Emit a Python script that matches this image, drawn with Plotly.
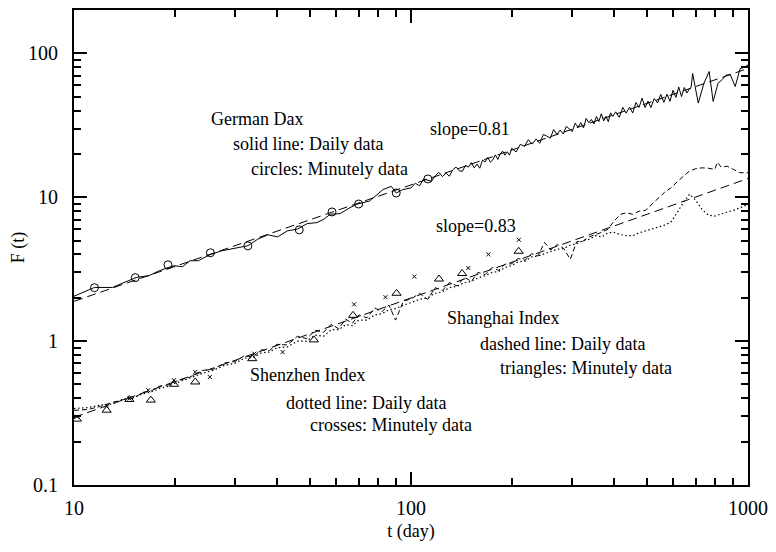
import plotly.graph_objects as go

# ---------------- data ----------------
# German Dax, daily data (solid line)
dax_t = [10, 11.5, 13, 14.3, 15.3, 16.7, 17.9, 19.1, 19.8, 21, 22.1, 23.4, 25.3, 27.4, 30, 32.8,
         35.1, 37.6, 40.2, 43, 46, 49.2, 52.6, 55.1, 57.6, 61.6, 65.9, 69, 75.3, 82.6, 87.4, 90.4,
         94.5, 100, 103, 106, 109, 112, 115, 118, 121, 124, 127, 130, 133, 136, 139, 142, 145,
         148, 151, 154, 157, 160, 163, 166, 169, 172, 175, 178, 181, 184, 187, 190, 193, 196, 199,
         205, 211, 217, 223, 229, 235, 241, 247, 253, 259, 265, 271, 277, 283, 289, 295, 301,
         307, 313, 319, 325, 331, 337, 343, 349, 355, 361, 367, 373, 379, 385, 391, 397,
         405, 415, 425, 435, 445, 455, 465, 475, 485, 495, 505, 515, 527, 539, 551, 563, 575,
         587, 599, 611, 623, 635, 647, 659, 671, 678, 685, 700, 712, 740, 767, 788, 815, 839,
         860, 886, 916, 948, 975, 1000]
dax_F = [2.05, 2.36, 2.36, 2.60, 2.77, 2.85, 3.08, 3.25, 3.34, 3.29, 3.62, 3.62, 3.98, 4.24, 4.43, 4.60,
         5.11, 5.48, 5.30, 5.84, 6.00, 6.56, 6.66, 7.03, 7.61, 7.69, 8.46, 8.93, 9.41, 11.3, 11.9, 10.7,
         11.3, 11.6,
         12.5, 12.0, 13.4, 13.2, 12.9, 14.1, 14.9, 13.9, 14.7, 14.0, 15.5, 16.2, 15.3, 15.1, 16.6, 16.2,
         17.4, 16.0, 17.0, 15.9, 18.1, 17.6, 18.9, 17.5, 18.2, 19.7, 18.3, 20.0, 20.9, 19.6, 20.7, 19.6, 21.9,
         20.6, 23.3, 22.6, 25.1, 23.4, 25.4, 23.7, 27.3, 26.6, 25.7, 29.5, 27.3, 29.3, 27.5, 31.1, 29.8,
         28.6, 32.7, 30.6, 33.0, 30.3, 35.3, 32.9, 34.7, 32.3, 36.4, 33.6, 38.0, 33.9, 36.4, 33.5, 38.6, 36.4,
         39.2, 35.9, 42.1, 38.4, 42.2, 38.5, 45.5, 42.1, 48.8, 42.0, 46.5, 42.0, 48.5, 45.2, 51.8, 45.6,
         52.0, 46.4, 55.3, 49.4, 58.3, 50.0, 57.9, 53.0, 56.9,
         58.0, 72.4, 56.0, 45.1, 62.0, 74.7, 46.3, 62.0, 65.8, 70.5, 71.2, 58.8, 78.4, 80.0, 83.1]

# German Dax, minutely data (circles)
dax_min_t = [11.5, 15.2, 19.0, 25.4, 32.8, 46.6, 58.3, 69.9, 90.4, 112.2]
dax_min_F = [2.35, 2.76, 3.39, 4.11, 4.59, 5.93, 7.90, 8.97, 10.7, 13.4]

# fitted lines (end points)
fit_t = [10, 1000]
dax_fit = [1.89, 78.5]       # slope = 0.81
china_fit = [0.295, 13.49]   # slope = 0.83

# Shanghai & Shenzhen daily data
cn_t = [10, 11, 12, 13, 14, 15, 16, 17, 18, 19, 20, 22, 24, 26, 28, 30, 32, 34, 36, 38, 40, 43, 46,
        49, 52, 55, 58, 61, 64, 67, 70, 74, 78, 82, 86, 90, 95, 100, 106, 112, 118, 124, 130, 137,
        144, 151, 158, 166, 174, 182, 190, 199, 208, 218, 228, 238, 249, 260, 272, 284, 297, 310,
        324, 338, 353, 368, 384, 400, 418, 436, 455, 475, 496, 518, 541, 565, 590, 616, 643, 671,
        700, 731, 763, 797, 811, 832, 868, 906, 946, 1000]
shanghai_F = [0.330, 0.335, 0.352, 0.375, 0.392, 0.400, 0.440, 0.452, 0.488, 0.495, 0.525, 0.560, 0.625,
              0.640, 0.705, 0.720, 0.790, 0.780, 0.870, 0.860, 0.950, 0.940, 1.08, 1.04, 1.19, 1.15, 1.31,
              1.22, 1.42, 1.33, 1.52, 1.45, 1.70, 1.60, 1.78, 1.40, 1.90, 1.96, 2.15, 1.95, 2.35, 2.25,
              2.55, 2.42, 2.78, 2.60, 3.00, 2.90, 3.25, 3.10, 3.42, 3.45, 3.75, 3.65, 4.05, 3.90, 4.85,
              4.30, 4.70, 4.40, 3.70, 4.90, 4.95, 5.30, 5.50, 5.70, 6.00, 6.80, 7.60, 7.80, 7.60, 8.00,
              8.10, 8.90, 9.80, 10.8, 11.6, 12.8, 14.0, 15.2, 15.8, 16.0, 15.9, 15.6, 17.5, 16.2, 16.4,
              15.6, 14.8, 14.8]
shenzhen_F = [0.340, 0.345, 0.360, 0.365, 0.395, 0.405, 0.430, 0.445, 0.470, 0.485, 0.510, 0.555, 0.595,
              0.630, 0.680, 0.700, 0.760, 0.770, 0.830, 0.840, 0.900, 0.910, 1.00, 1.00, 1.10, 1.08, 1.20,
              1.20, 1.30, 1.28, 1.40, 1.40, 1.52, 1.55, 1.65, 1.68, 1.78, 1.85, 1.95, 2.00, 2.15, 2.20,
              2.35, 2.40, 2.55, 2.60, 2.75, 2.85, 3.00, 3.05, 3.25, 3.35, 3.55, 3.60, 3.85, 3.90, 4.05,
              4.15, 4.35, 4.40, 4.65, 4.75, 5.00, 5.10, 5.40, 5.30, 5.65, 5.70, 5.50, 5.40, 5.40, 5.65,
              5.85, 6.00, 6.20, 6.40, 6.70, 7.80, 9.20, 10.5, 9.50, 8.20, 7.50, 7.40, 7.50, 7.70, 7.90,
              8.10, 8.40, 8.90]

# Shanghai minutely data (triangles)
sh_min_t = [10.2, 12.5, 14.6, 16.9, 19.8, 22.9, 33.8, 51.5, 67.3, 90.6, 121.1, 141.8, 208.7]
sh_min_F = [0.287, 0.331, 0.393, 0.389, 0.501, 0.520, 0.755, 1.02, 1.51, 2.15, 2.70, 2.95, 4.21]

# Shenzhen minutely data (crosses)
sz_min_t = [10.2, 12.5, 14.6, 16.6, 19.8, 22.9, 25.3, 34.3, 41.6, 67.8, 84.0, 102.3, 147.9, 169.7, 209.0]
sz_min_F = [0.298, 0.353, 0.399, 0.456, 0.535, 0.610, 0.563, 0.818, 0.839, 1.80, 2.02, 2.81, 3.22, 4.01, 5.06]

x_tickvals = [10, 100, 1000]
x_ticktext = ["10", "100", "1000"]
y_tickvals = [0.1, 1, 10, 100]
y_ticktext = ["0.1", "1", "10", "100"]

labels = [
    ("German Dax", 0.2009, 0.7715),
    ("solid line: Daily data", 0.2331, 0.7170),
    ("circles: Minutely data", 0.2595, 0.6646),
    ("slope=0.81", 0.5249, 0.7495),
    ("slope=0.83", 0.5337, 0.5451),
    ("Shanghai Index", 0.5499, 0.3522),
    ("dashed line: Daily data", 0.5997, 0.2977),
    ("triangles: Minutely data", 0.6290, 0.2453),
    ("Shenzhen Index", 0.2581, 0.2306),
    ("dotted line: Daily data", 0.3109, 0.1719),
    ("crosses: Minutely data", 0.3475, 0.1258),
]

# ---------------- figure ----------------
FONT = "Liberation Serif, Times New Roman, serif"
fig = go.Figure()

fig.add_trace(go.Scatter(x=fit_t, y=dax_fit, mode="lines",
                         line=dict(color="black", width=1, dash="9px,5px")))
fig.add_trace(go.Scatter(x=fit_t, y=china_fit, mode="lines",
                         line=dict(color="black", width=1, dash="9px,5px")))
fig.add_trace(go.Scatter(x=dax_t, y=dax_F, mode="lines",
                         line=dict(color="black", width=1)))
fig.add_trace(go.Scatter(x=cn_t, y=shanghai_F, mode="lines",
                         line=dict(color="black", width=1, dash="5px,3px")))
fig.add_trace(go.Scatter(x=cn_t, y=shenzhen_F, mode="lines",
                         line=dict(color="black", width=1.2, dash="1.5px,2.5px")))
fig.add_trace(go.Scatter(x=dax_min_t, y=dax_min_F, mode="markers",
                         marker=dict(symbol="circle-open", size=8, color="black",
                                     line=dict(width=1, color="black"))))
fig.add_trace(go.Scatter(x=sh_min_t, y=sh_min_F, mode="markers",
                         marker=dict(symbol="triangle-up-open", size=8, color="black",
                                     line=dict(width=1, color="black"))))
fig.add_trace(go.Scatter(x=sz_min_t, y=sz_min_F, mode="markers",
                         marker=dict(symbol="x-thin-open", size=4, color="black",
                                     line=dict(width=1, color="black"))))

for txt, xp, yp in labels:
    fig.add_annotation(text=txt, x=xp, y=yp, xref="paper", yref="paper",
                       xanchor="left", yanchor="middle", showarrow=False,
                       font=dict(family=FONT, size=18, color="black"))

# y-axis title
fig.add_annotation(text="F (t)", x=-0.082, y=0.5, xref="paper", yref="paper",
                   xanchor="center", yanchor="middle", textangle=-90, showarrow=False,
                   font=dict(family=FONT, size=18, color="black"))

axis_common = dict(
    showline=True, linewidth=2, linecolor="black", mirror="ticks",
    ticks="inside", ticklen=13, tickwidth=2, tickcolor="black",
    showgrid=False, zeroline=False,
    tickfont=dict(family=FONT, size=20, color="black"),
)

fig.update_xaxes(type="log", range=[1, 3], tickvals=x_tickvals, ticktext=x_ticktext,
                 title=dict(text="t (day)", font=dict(family=FONT, size=18, color="black"), standoff=6),
                 minor=dict(ticks="inside", ticklen=7, tickwidth=1.5, tickcolor="black",
                            tickvals=[20, 30, 40, 50, 60, 70, 80, 90, 200, 300, 400, 500, 600, 700, 800, 900],
                            showgrid=False),
                 ticklabelstandoff=4,
                 **axis_common)
fig.update_yaxes(type="log", range=[-1, 2.301], tickvals=y_tickvals, ticktext=y_ticktext,
                 minor=dict(ticks="inside", ticklen=7, tickwidth=1.5, tickcolor="black",
                            tickvals=[0.2, 0.3, 0.4, 0.5, 0.6, 0.7, 0.8, 0.9, 2, 3, 4, 5, 6, 7, 8, 9,
                                      20, 30, 40, 50, 60, 70, 80, 90, 200],
                            showgrid=False),
                 ticklabelstandoff=10,
                 **axis_common)

fig.update_layout(width=776, height=552, showlegend=False,
                  margin=dict(l=74, r=20, t=8, b=67),
                  paper_bgcolor="white", plot_bgcolor="white",
                  font=dict(family=FONT, color="black"))

fig.write_html("out.html")
